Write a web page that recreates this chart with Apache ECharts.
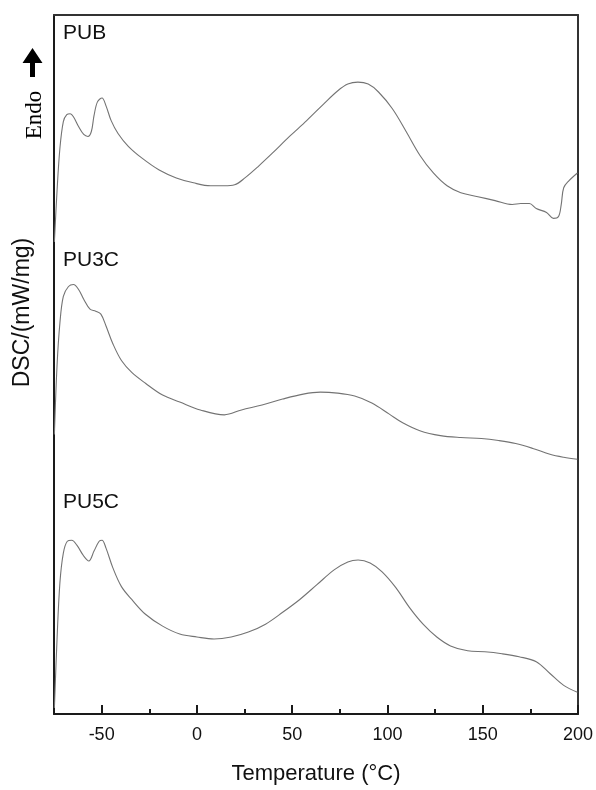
<!DOCTYPE html>
<html>
<head>
<meta charset="utf-8">
<script src="https://cdn.jsdelivr.net/npm/echarts@6/dist/echarts.min.js"></script>
<style>
html,body{margin:0;padding:0;background:#fff;}
#chart{width:596px;height:790px;}
</style>
</head>
<body>
<div id="chart"></div>
<script>
// Temperature (°C) and DSC signal (arbitrary offset units)
var pubT = [-74.8,-73.4,-71.9,-70.1,-68.3,-66.5,-64.8,-62.1,-59.4,-57.2,-55.4,-54.0,-52.2,-49.8,-47.7,-45.0,-41.4,-36.0,-28.8,-19.8,-10.8,-1.8,7.2,14.4,19.8,25.2,32.4,39.6,48.6,57.6,66.6,73.8,79.2,84.5,89.9,95.3,102.6,109.8,117.0,124.1,131.3,138.5,147.5,156.5,165.5,170.0,174.5,178.1,183.5,187.1,189.8,191.2,192.5,195.2,199.7];
var pubV = [4.78,5.30,5.73,6.00,6.07,6.08,6.05,5.95,5.87,5.85,5.90,6.06,6.20,6.24,6.16,6.01,5.88,5.75,5.63,5.51,5.43,5.38,5.35,5.35,5.36,5.43,5.55,5.68,5.85,6.01,6.18,6.31,6.38,6.40,6.38,6.30,6.13,5.90,5.66,5.48,5.35,5.28,5.24,5.20,5.16,5.17,5.17,5.12,5.08,5.02,5.04,5.16,5.33,5.40,5.48];

var pu3cT = [-74.8,-73.4,-71.9,-70.1,-67.4,-64.8,-62.1,-59.4,-56.1,-53.1,-50.4,-47.7,-44.1,-39.6,-34.2,-27.0,-18.0,-9.0,1.8,14.4,23.4,34.2,45.0,55.8,64.8,73.8,82.8,91.8,100.8,108.0,117.0,127.8,138.5,149.3,158.3,167.3,176.3,185.3,192.5,199.7];
var pu3cV = [2.83,3.53,3.96,4.23,4.33,4.35,4.30,4.20,4.10,4.08,4.05,3.93,3.75,3.58,3.46,3.35,3.23,3.16,3.08,3.03,3.08,3.13,3.19,3.24,3.26,3.25,3.22,3.15,3.04,2.95,2.87,2.82,2.80,2.79,2.77,2.74,2.69,2.63,2.60,2.58];

var pu5cT = [-74.8,-73.4,-71.9,-70.1,-68.0,-65.7,-63.0,-59.4,-56.7,-54.0,-51.3,-49.8,-47.7,-44.1,-39.6,-34.2,-27.0,-18.0,-9.0,0.0,9.0,18.0,27.0,36.0,45.0,54.0,63.0,72.0,79.2,84.6,90.9,97.2,104.4,111.5,118.7,125.9,133.1,142.1,151.1,160.1,169.1,178.1,185.3,192.5,199.7];
var pu5cV = [0.06,0.76,1.33,1.63,1.75,1.76,1.71,1.60,1.55,1.65,1.75,1.76,1.68,1.48,1.29,1.16,1.01,0.89,0.81,0.78,0.76,0.78,0.83,0.91,1.03,1.16,1.31,1.46,1.54,1.56,1.53,1.44,1.28,1.08,0.91,0.78,0.69,0.64,0.63,0.61,0.58,0.53,0.41,0.29,0.22];

var majorTicks = [-50, 0, 50, 100, 150, 200];
var minorTicks = [-25, 25, 75, 125, 175];
var seriesNames = ['PUB', 'PU3C', 'PU5C'];

function pairs(t, v) { return t.map(function (x, i) { return [x, v[i]]; }); }

var chart = echarts.init(document.getElementById('chart'), null, { renderer: 'canvas' });
var lineColor = '#737373';
var axisColor = '#1a1a1a';
var fam = '"Liberation Sans", Arial, sans-serif';

var option = {
  backgroundColor: '#ffffff',
  animation: false,
  grid: { left: 54, right: 15, top: 15, bottom: 67 },
  xAxis: [
    {
      type: 'value', min: -75, max: 200, position: 'bottom',
      name: 'Temperature (°C)', nameLocation: 'middle', nameGap: 49,
      nameTextStyle: { fontFamily: fam, fontSize: 22, color: '#111' },
      axisLine: { show: true, onZero: false, lineStyle: { color: axisColor, width: 2 } },
      axisTick: { show: true, inside: true, length: 9, customValues: majorTicks, lineStyle: { color: axisColor, width: 2 } },
      axisLabel: { show: true, customValues: majorTicks, margin: 12, fontFamily: fam, fontSize: 18, color: '#111' },
      splitLine: { show: false }
    },
    {
      type: 'value', min: -75, max: 200, position: 'bottom', gridIndex: 0,
      axisLine: { show: false },
      axisTick: { show: true, inside: true, length: 5, customValues: minorTicks, lineStyle: { color: axisColor, width: 2 } },
      axisLabel: { show: false },
      splitLine: { show: false }
    },
    {
      type: 'value', min: -75, max: 200, position: 'top',
      axisLine: { show: true, onZero: false, lineStyle: { color: '#333', width: 2 } },
      axisTick: { show: false }, axisLabel: { show: false }, splitLine: { show: false }
    }
  ],
  yAxis: [
    {
      type: 'value', min: 0, max: 7.08, position: 'left',
      name: 'DSC/(mW/mg)', nameLocation: 'middle', nameGap: 20,
      nameTextStyle: { fontFamily: fam, fontSize: 23, color: '#111', padding: [0, 0, 0, 104] },
      axisLine: { show: true, onZero: false, lineStyle: { color: axisColor, width: 2 } },
      axisTick: { show: false }, axisLabel: { show: false }, splitLine: { show: false }
    },
    {
      type: 'value', min: 0, max: 7.08, position: 'right',
      axisLine: { show: true, onZero: false, lineStyle: { color: '#333', width: 2 } },
      axisTick: { show: false }, axisLabel: { show: false }, splitLine: { show: false }
    }
  ],
  series: [
    { name: seriesNames[0], type: 'line', data: pairs(pubT, pubV), showSymbol: false, smooth: 0.35, lineStyle: { color: lineColor, width: 1.1 }, itemStyle: { color: lineColor } },
    { name: seriesNames[1], type: 'line', data: pairs(pu3cT, pu3cV), showSymbol: false, smooth: 0.35, lineStyle: { color: lineColor, width: 1.1 }, itemStyle: { color: lineColor } },
    { name: seriesNames[2], type: 'line', data: pairs(pu5cT, pu5cV), showSymbol: false, smooth: 0.35, lineStyle: { color: lineColor, width: 1.1 }, itemStyle: { color: lineColor } }
  ],
  graphic: [
    { type: 'text', left: 63, top: 23, style: { text: seriesNames[0], fontFamily: fam, fontSize: 21, fill: '#111' } },
    { type: 'text', left: 63, top: 250, style: { text: seriesNames[1], fontFamily: fam, fontSize: 21, fill: '#111' } },
    { type: 'text', left: 63, top: 492, style: { text: seriesNames[2], fontFamily: fam, fontSize: 21, fill: '#111' } },
    { type: 'text', x: 35, y: 115, rotation: Math.PI / 2,
      style: { text: 'Endo', fontFamily: '"Liberation Serif", "Times New Roman", serif', fontSize: 23, fill: '#000', align: 'center', verticalAlign: 'middle' } },
    { type: 'polygon',
      shape: { points: [[32.5, 48], [42.5, 63], [35, 63], [35, 77], [30, 77], [30, 63], [22.5, 63]] },
      style: { fill: '#000' } }
  ]
};
chart.setOption(option);
</script>
</body>
</html>
